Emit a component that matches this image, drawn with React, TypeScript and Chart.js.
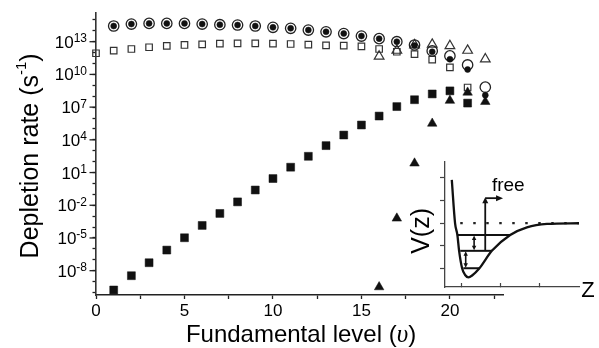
import React, { useEffect, useRef } from 'react';
import { Chart, registerables } from 'chart.js';

Chart.register(...registerables);

const FONT = '"Liberation Sans", Arial, Helvetica, sans-serif';
const SERIF = '"Liberation Serif", "Times New Roman", serif';

// ---- main chart data (values are log10 of the depletion rate, s^-1) ----
const openCircleLevels = [1, 2, 3, 4, 5, 6, 7, 8, 9, 10, 11, 12, 13, 14, 15, 16, 17, 18, 19, 20, 21, 22];
const openCircleLog = [14.44, 14.62, 14.68, 14.68, 14.68, 14.62, 14.56, 14.53, 14.44, 14.32, 14.23, 14.07, 13.91, 13.75, 13.52, 13.28, 13.0, 12.7, 12.15, 11.7, 10.87, 8.83];

const filledCircleLevels = [1, 2, 3, 4, 5, 6, 7, 8, 9, 10, 11, 12, 13, 14, 15, 16, 17, 18, 19, 20, 21, 22];
const filledCircleLog = [14.44, 14.62, 14.68, 14.68, 14.68, 14.62, 14.56, 14.53, 14.44, 14.32, 14.23, 14.07, 13.91, 13.75, 13.52, 13.28, 13.0, 12.65, 12.08, 11.39, 10.45, 8.1];

const openSquareLevels = [0, 1, 2, 3, 4, 5, 6, 7, 8, 9, 10, 11, 12, 13, 14, 15, 16, 17, 18, 19, 20, 21];
const openSquareLog = [11.94, 12.18, 12.33, 12.49, 12.61, 12.7, 12.76, 12.82, 12.85, 12.85, 12.82, 12.79, 12.73, 12.67, 12.64, 12.57, 12.33, 12.08, 11.86, 11.36, 10.65, 8.8];

const openTriangleLevels = [16, 17, 18, 19, 20, 21, 22];
const openTriangleLog = [11.65, 12.2, 12.7, 12.75, 12.62, 12.2, 11.4];

const filledSquareLevels = [1, 2, 3, 4, 5, 6, 7, 8, 9, 10, 11, 12, 13, 14, 15, 16, 17, 18, 19, 20, 21];
const filledSquareLog = [-9.77, -8.46, -7.27, -6.11, -4.98, -3.85, -2.75, -1.69, -0.6, 0.45, 1.49, 2.49, 3.47, 4.44, 5.36, 6.18, 7.05, 7.68, 8.21, 8.49, 7.37];

const filledTriangleLevels = [16, 17, 18, 19, 20, 21, 22];
const filledTriangleLog = [-9.5, -3.2, 1.85, 5.5, 7.6, 8.35, 7.5];

const xTickStep = 2.5;
const xLabelEvery = 5;
const yMinorDecades = [-10, -9, -8, -7, -6, -5, -4, -3, -2, -1, 0, 1, 2, 3, 4, 5, 6, 7, 8, 9, 10, 11, 12, 13, 14, 15];
const yLabelExponents = [-8, -5, -2, 1, 4, 7, 10, 13];

// ---- inset data (arbitrary units) ----
const wellZ = [-0.256, -0.172, -0.113, -0.069, 0.008, 0.085, 0.169, 0.264, 0.451, 0.769, 1.238, 1.667, 2.18, 3.0];
const wellV = [3.91, 1.99, 1.47, 0.77, 0.0, -0.3, -0.4, -0.32, 0.0, 0.77, 1.47, 1.81, 1.96, 1.99];
const levelV = [1.47, 0.77, 0.0];
const levelLeftZ = [-0.11, -0.04, 0.04];
const levelRightZ = [1.24, 0.77, 0.45];
const asymptoteZ = [-0.04, 3.0];
const asymptoteV = [2, 2];
const transitionZ = [0.315, 0.1];
const transitionFromV = [0.77, 0.0];
const transitionToV = [1.47, 0.77];
const freePathZ = [0.6, 0.6, 1.03];
const freePathV = [0.77, 3.1, 3.1];
const insetYTicks = [0, 1, 2, 3, 4];
const insetXTicks = [0, 1, 2];

const pts = (xs: number[], logs: number[]) => xs.map((x, i) => ({ x, y: Math.pow(10, logs[i]) }));
const lin = (xs: number[], ys: number[]) => xs.map((x, i) => ({ x, y: ys[i] }));

const mainDecor = {
  id: 'mainDecor',
  afterDraw(chart: any) {
    const { ctx, chartArea, scales } = chart;
    const y = scales.y;
    const x = scales.x;
    ctx.save();
    ctx.fillStyle = '#000';
    ctx.strokeStyle = '#222';
    ctx.lineWidth = 1.3;
    // longer major ticks on y
    for (const e of yLabelExponents) {
      const py = y.getPixelForValue(Math.pow(10, e));
      ctx.beginPath();
      ctx.moveTo(chartArea.left - 6.5, py);
      ctx.lineTo(chartArea.left, py);
      ctx.stroke();
      const exp = String(e);
      ctx.textAlign = 'right';
      ctx.textBaseline = 'alphabetic';
      ctx.font = `12px ${FONT}`;
      const ew = ctx.measureText(exp).width;
      const right = chartArea.left - 9;
      ctx.fillText(exp, right, py + 0.5);
      ctx.font = `17px ${FONT}`;
      ctx.fillText('10', right - ew, py + 6);
    }
    // y title
    const parts = [
      { t: 'Depletion rate (s', f: `25px ${FONT}`, dy: 0 },
      { t: '-1', f: `15px ${FONT}`, dy: -12 },
      { t: ')', f: `25px ${FONT}`, dy: 0 },
    ];
    let total = 0;
    for (const p of parts) { ctx.font = p.f; total += ctx.measureText(p.t).width; }
    ctx.save();
    ctx.translate(38, (chartArea.top + chartArea.bottom) / 2 + 2);
    ctx.rotate(-Math.PI / 2);
    ctx.textAlign = 'left';
    let lx = -total / 2;
    for (const p of parts) {
      ctx.font = p.f;
      ctx.fillText(p.t, lx, p.dy);
      lx += ctx.measureText(p.t).width;
    }
    ctx.restore();
    // x title
    const xparts = [
      { t: 'Fundamental level (', f: `24px ${FONT}` },
      { t: 'υ', f: `italic 25px ${SERIF}` },
      { t: ')', f: `24px ${FONT}` },
    ];
    let xt = 0;
    for (const p of xparts) { ctx.font = p.f; xt += ctx.measureText(p.t).width; }
    let sx = (x.left + x.right) / 2 + 1.5 - xt / 2;
    ctx.textAlign = 'left';
    for (const p of xparts) {
      ctx.font = p.f;
      ctx.fillText(p.t, sx, 341.5);
      sx += ctx.measureText(p.t).width;
    }
    ctx.restore();
  },
};

function head(ctx: CanvasRenderingContext2D, x: number, y: number, dir: string, len = 5, hw = 2.6) {
  ctx.beginPath();
  if (dir === 'up') { ctx.moveTo(x, y); ctx.lineTo(x - hw, y + len); ctx.lineTo(x + hw, y + len); }
  else if (dir === 'down') { ctx.moveTo(x, y); ctx.lineTo(x - hw, y - len); ctx.lineTo(x + hw, y - len); }
  else { ctx.moveTo(x, y); ctx.lineTo(x - len, y - hw); ctx.lineTo(x - len, y + hw); }
  ctx.closePath();
  ctx.fill();
}

const insetDecor = {
  id: 'insetDecor',
  afterDatasetsDraw(chart: any) {
    const { ctx, scales } = chart;
    const X = (v: number) => scales.x.getPixelForValue(v);
    const Y = (v: number) => scales.y.getPixelForValue(v);
    ctx.save();
    ctx.strokeStyle = '#111';
    ctx.fillStyle = '#111';
    ctx.lineWidth = 1.6;
    transitionZ.forEach((z, i) => {
      const px = X(z);
      const y1 = Y(transitionFromV[i]);
      const y2 = Y(transitionToV[i]);
      ctx.beginPath();
      ctx.moveTo(px, y1 - 4);
      ctx.lineTo(px, y2 + 4);
      ctx.stroke();
      head(ctx, px, y2 + 0.5, 'up', 4.5, 2.2);
      head(ctx, px, y1 - 0.5, 'down', 4.5, 2.2);
    });
    ctx.lineWidth = 1.8;
    ctx.beginPath();
    ctx.moveTo(X(freePathZ[0]), Y(freePathV[0]));
    ctx.lineTo(X(freePathZ[1]), Y(freePathV[1]) + 4);
    ctx.stroke();
    ctx.beginPath();
    ctx.moveTo(X(freePathZ[1]), Y(freePathV[1]));
    ctx.lineTo(X(freePathZ[2]) - 4, Y(freePathV[2]));
    ctx.stroke();
    head(ctx, X(freePathZ[1]), Y(freePathV[1]) - 1, 'up', 6, 3);
    head(ctx, X(freePathZ[2]) + 1, Y(freePathV[2]), 'right', 7, 3);
    // texts
    ctx.fillStyle = '#000';
    ctx.textBaseline = 'alphabetic';
    ctx.textAlign = 'left';
    ctx.font = `19px ${FONT}`;
    ctx.fillText('free', X(0.77), Y(3.42));
    ctx.font = `22px ${FONT}`;
    ctx.fillText('Z', X(3.06), Y(-1.27));
    ctx.save();
    ctx.translate(X(-0.84), Y(1.65));
    ctx.rotate(-Math.PI / 2);
    ctx.textAlign = 'center';
    ctx.font = `25px ${FONT}`;
    ctx.fillText('V(z)', 0, 0);
    ctx.restore();
    ctx.restore();
  },
};

export default function App() {
  const mainRef = useRef<HTMLCanvasElement>(null);
  const insetRef = useRef<HTMLCanvasElement>(null);

  useEffect(() => {
    document.body.style.margin = '0';
    const openStyle = { backgroundColor: 'rgba(0,0,0,0)', borderColor: '#333', borderWidth: 1.2 };
    const filledStyle = { backgroundColor: '#111', borderColor: '#111', borderWidth: 0.5 };

    const main = new Chart(mainRef.current as HTMLCanvasElement, {
      type: 'scatter',
      data: {
        datasets: [
          { data: pts(filledCircleLevels, filledCircleLog), pointStyle: 'circle', pointRadius: 3, ...filledStyle, clip: false },
          { data: pts(filledTriangleLevels, filledTriangleLog), pointStyle: 'triangle', pointRadius: 5.5, ...filledStyle, clip: false },
          { data: pts(filledSquareLevels, filledSquareLog), pointStyle: 'rect', pointRadius: 5.6, ...filledStyle, clip: false },
          { data: pts(openCircleLevels, openCircleLog), pointStyle: 'circle', pointRadius: 5.2, ...openStyle, borderColor: '#222', borderWidth: 1.3, clip: false },
          { data: pts(openTriangleLevels, openTriangleLog), pointStyle: 'triangle', pointRadius: 5.6, ...openStyle, clip: false },
          { data: pts(openSquareLevels, openSquareLog), pointStyle: 'rect', pointRadius: 4.6, ...openStyle, clip: false },
        ] as any,
      },
      options: {
        animation: false,
        responsive: false,
        devicePixelRatio: 1,
        events: [],
        layout: { padding: { top: 12.7, right: 96, bottom: 0, left: 0 } },
        plugins: { legend: { display: false }, tooltip: { enabled: false } },
        scales: {
          x: {
            type: 'linear',
            position: 'bottom',
            min: 0,
            max: 23,
            afterFit: (s: any) => { s.height = 53; },
            ticks: {
              stepSize: xTickStep,
              includeBounds: false,
              autoSkip: false,
              maxRotation: 0,
              padding: 2,
              color: '#000',
              font: { family: FONT, size: 17 },
              callback: (v: any) => (Number(v) % xLabelEvery === 0 ? String(v) : ''),
            },
            grid: { display: true, drawOnChartArea: false, drawTicks: true, tickLength: 4, tickColor: '#222', tickWidth: 1.3 },
            border: { display: true, color: '#222', width: 1.5 },
          },
          y: {
            type: 'logarithmic',
            position: 'left',
            min: Math.pow(10, -10.23),
            max: Math.pow(10, 15.66),
            afterFit: (s: any) => { s.width = 96; },
            afterBuildTicks: (s: any) => { s.ticks = yMinorDecades.map((e) => ({ value: Math.pow(10, e) })); },
            ticks: { display: false },
            grid: { display: true, drawOnChartArea: false, drawTicks: true, tickLength: 3.5, tickColor: '#222', tickWidth: 1.3 },
            border: { display: true, color: '#333', width: 1.6 },
          },
        },
      } as any,
      plugins: [mainDecor],
    });

    const inset = new Chart(insetRef.current as HTMLCanvasElement, {
      type: 'scatter',
      data: {
        datasets: [
          { data: lin(wellZ, wellV), showLine: true, borderColor: '#111', borderWidth: 2.3, pointRadius: 0, cubicInterpolationMode: 'monotone', clip: false },
          { data: lin(asymptoteZ, asymptoteV), showLine: true, borderColor: '#222', borderWidth: 2.2, borderDash: [2.5, 10.5], pointRadius: 0 },
          ...levelV.map((v, i) => ({ data: lin([levelLeftZ[i], levelRightZ[i]], [v, v]), showLine: true, borderColor: '#111', borderWidth: 2, pointRadius: 0 })),
        ] as any,
      },
      options: {
        animation: false,
        responsive: false,
        devicePixelRatio: 1,
        events: [],
        layout: { padding: { left: 65, top: 12, right: 20, bottom: 23 } },
        plugins: { legend: { display: false }, tooltip: { enabled: false } },
        scales: {
          x: {
            type: 'linear',
            min: -0.43,
            max: 3.0,
            afterFit: (s: any) => { s.height = 0; },
            afterBuildTicks: (s: any) => { s.ticks = insetXTicks.map((v) => ({ value: v })); },
            ticks: { display: false },
            grid: { display: true, drawOnChartArea: false, drawTicks: true, tickLength: -4, tickColor: '#444', tickWidth: 1.2 },
            border: { display: true, color: '#444', width: 1.3 },
          },
          y: {
            type: 'linear',
            min: -0.83,
            max: 4.7,
            afterFit: (s: any) => { s.width = 0; },
            afterBuildTicks: (s: any) => { s.ticks = insetYTicks.map((v) => ({ value: v })); },
            ticks: { display: false },
            grid: { display: true, drawOnChartArea: false, drawTicks: true, tickLength: 5, tickColor: '#444', tickWidth: 1.2 },
            border: { display: true, color: '#444', width: 1.3 },
          },
        },
      } as any,
      plugins: [insetDecor],
    });

    return () => {
      main.destroy();
      inset.destroy();
    };
  }, []);

  return (
    <div style={{ position: 'relative', width: 599, height: 348, background: '#fff', overflow: 'hidden' }}>
      <canvas ref={mainRef} width={599} height={348} style={{ position: 'absolute', left: 0, top: 0 }} />
      <canvas ref={insetRef} width={219} height={160} style={{ position: 'absolute', left: 380, top: 150 }} />
    </div>
  );
}
